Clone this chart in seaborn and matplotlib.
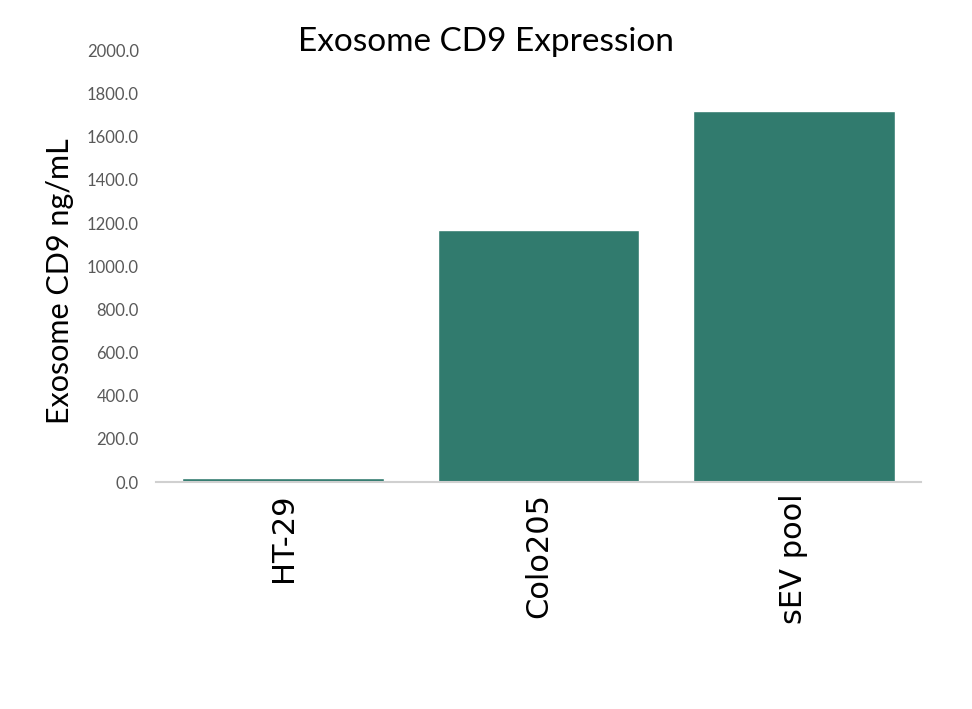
import os
import matplotlib
matplotlib.use('Agg')
import matplotlib.pyplot as plt
import seaborn as sns
import pandas as pd
from matplotlib.ticker import FormatStrFormatter
from matplotlib.font_manager import FontProperties, findfont

samples = ['HT-29', 'Colo205', 'sEV pool']
cd9_ng_ml = [18.0, 1168.0, 1720.0]
y_ticks = [0, 200, 400, 600, 800, 1000, 1200, 1400, 1600, 1800, 2000]

df = pd.DataFrame({'Sample': samples, 'CD9': cd9_ng_ml})

sns.set_theme(style="white")
plt.rcParams['font.family'] = ['Lato', 'DejaVu Sans']

# wide sans for the category labels (DejaVu file, looked up directly)
dv_path = os.path.join(matplotlib.get_data_path(), 'fonts', 'ttf', 'DejaVuSans.ttf')
if not os.path.exists(dv_path):
    dv_path = findfont(FontProperties(family='DejaVu Sans'))
cat_font = FontProperties(fname=dv_path, size=22)

fig = plt.figure(figsize=(9.72, 7.09), dpi=100)
ax = fig.add_axes([0.16, 0.32, 0.788, 0.609])

sns.barplot(data=df, x='Sample', y='CD9', ax=ax, color='#317B6E',
            saturation=1, width=0.79)

ax.set_ylim(0, 2000)
ax.set_yticks(y_ticks)
ax.yaxis.set_major_formatter(FormatStrFormatter('%.1f'))
ax.tick_params(axis='y', labelsize=12, labelcolor='#595959', length=0, pad=12)
ax.tick_params(axis='x', length=0, pad=8)
ax.set_xticks(range(len(samples)))
ax.set_xticklabels(samples, rotation=90, fontproperties=cat_font, color='black')

for side in ['top', 'right', 'left']:
    ax.spines[side].set_visible(False)
ax.spines['bottom'].set_color('#d0d0d0')
ax.spines['bottom'].set_linewidth(1.5)

ax.set_xlabel('')
ax.set_ylabel('Exosome CD9 ng/mL', fontsize=22, color='black')
ax.yaxis.set_label_coords(-0.107, 0.465)
fig.text(0.5, 0.941, 'Exosome CD9 Expression', fontsize=24,
         color='black', ha='center', va='center')

plt.savefig('out.png', dpi=100)
plt.close()
